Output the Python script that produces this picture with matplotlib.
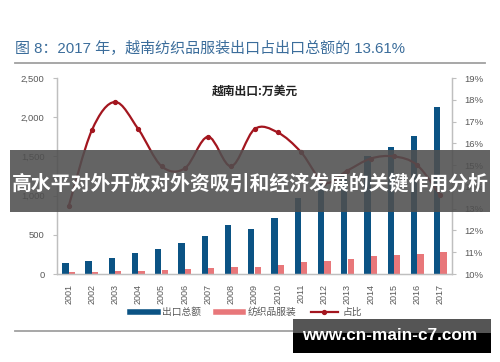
import matplotlib
matplotlib.use("Agg")
import matplotlib.pyplot as plt
from matplotlib.path import Path
from matplotlib.patches import PathPatch, Rectangle
from matplotlib.lines import Line2D
from matplotlib.ticker import FuncFormatter
import numpy as np

plt.rcParams['font.family'] = ['Liberation Sans', 'Noto Sans CJK SC', 'DejaVu Sans']

years = ['2001', '2002', '2003', '2004', '2005', '2006', '2007', '2008', '2009',
         '2010', '2011', '2012', '2013', '2014', '2015', '2016', '2017']
total_exports = [145, 168, 198, 264, 322, 395, 482, 627, 570, 720, 966, 1150, 1290,
                 1500, 1620, 1765, 2130]
textile_exports = [24, 28, 38, 42, 50, 62, 76, 90, 88, 113, 152, 165, 192,
                   230, 244, 258, 285]
share_pct = [13.1, 16.6, 17.9, 16.65, 14.95, 14.85, 16.3, 14.95, 16.65,
             16.5, 15.6, 14.2, 14.75, 15.3, 15.4, 15.0, 13.61]

title = "图 8：2017 年，越南纺织品服装出口占出口总额的 13.61%"
inner_label = "越南出口:万美元"
legend_labels = ['出口总额', '纺织品服装', '占比']
banner_text = "高水平对外开放对外资吸引和经济发展的关键作用分析"
url_text = "www.cn-main-c7.com"

BLUE = '#0b5384'
PINK = '#e8777a'
RED = '#a3161f'
GRAY = '#595959'

W, H = 500, 362
fig = plt.figure(figsize=(5, 3.62), dpi=100)
fig.patch.set_facecolor('white')

def fx(px):
    return px / W

def fy(py):
    return 1 - py / H

ax = fig.add_axes([fx(57), fy(274), fx(452) - fx(57), fy(78) - fy(274)])
ax2 = ax.twinx()

x = np.arange(len(years))
bw = 0.27
ax.bar(x - 0.14, total_exports, width=bw, color=BLUE, zorder=2)
ax.bar(x + 0.14, textile_exports, width=bw, color=PINK, zorder=2)

ax.set_xlim(-0.5, len(years) - 0.5)
ax.set_ylim(0, 2500)
ax.set_yticks([0, 500, 1000, 1500, 2000, 2500])
ax.yaxis.set_major_formatter(FuncFormatter(lambda v, p: f"{int(v):,}"))
ax.set_xticks(x)
ax.set_xticklabels(years, rotation=90, fontsize=6.5, color=GRAY)
ax.tick_params(axis='x', length=0, pad=7)
ax.tick_params(axis='y', length=3, color='#bfbfbf', labelsize=6.8, labelcolor=GRAY, pad=6)

ax2.set_ylim(10, 19)
ax2.set_yticks(range(10, 20))
ax2.yaxis.set_major_formatter(FuncFormatter(lambda v, p: f"{int(v)}%"))
ax2.tick_params(axis='y', length=3, color='#bfbfbf', labelsize=6.8, labelcolor=GRAY, pad=6)

for a in (ax, ax2):
    a.spines['top'].set_visible(False)
    for s in ('left', 'right', 'bottom'):
        a.spines[s].set_color('#bfbfbf')
        a.spines[s].set_linewidth(0.9)
    a.set_facecolor('none')

# smoothed line (Excel-style) through data points via cubic Bezier segments
pts = np.column_stack([x, share_pct]).astype(float)
verts = [tuple(pts[0])]
codes = [Path.MOVETO]
n = len(pts)
for i in range(n - 1):
    p0 = pts[i - 1] if i > 0 else pts[i]
    p1 = pts[i]
    p2 = pts[i + 1]
    p3 = pts[i + 2] if i + 2 < n else pts[i + 1]
    c1 = p1 + (p2 - p0) / 6.0
    c2 = p2 - (p3 - p1) / 6.0
    verts += [tuple(c1), tuple(c2), tuple(p2)]
    codes += [Path.CURVE4, Path.CURVE4, Path.CURVE4]
ax2.add_patch(PathPatch(Path(verts, codes), facecolor='none', edgecolor=RED, lw=1.6, zorder=3))
ax2.plot(x, share_pct, linestyle='none', marker='o', markersize=2.8, color=RED, zorder=4)

ax.text(0.5, 0.935, inner_label, transform=ax.transAxes, ha='center', va='center',
        fontsize=8.5, fontweight='bold', color='#222222', family=['Noto Sans CJK SC'])

# title and rules
fig.text(fx(15), fy(49), title, ha='left', va='center', fontsize=10.8, color='#3b6d9b')
fig.add_artist(Line2D([fx(15), fx(485)], [fy(63), fy(63)], color='#a0a0a0', lw=1.3))
fig.add_artist(Line2D([fx(15), fx(485)], [fy(331), fy(331)], color='#a0a0a0', lw=1.3))

# legend
handles = [Line2D([], [], color=BLUE, lw=4),
           Line2D([], [], color=PINK, lw=4),
           Line2D([], [], color=RED, lw=1.6, marker='o', markersize=2.8)]
leg = fig.legend(handles, legend_labels, loc='center', bbox_to_anchor=(fx(246), fy(312)),
                 ncol=3, frameon=False, fontsize=7, handlelength=2.8, handletextpad=0.45,
                 columnspacing=1.5, labelcolor=GRAY)

# overlay banners
fig.add_artist(Rectangle((fx(10), fy(212)), fx(490) - fx(10), fy(150) - fy(212),
                         transform=fig.transFigure, facecolor='#4f4f4f', alpha=0.88,
                         edgecolor='none', zorder=10))
fig.text(fx(250), fy(183), banner_text, ha='center', va='center', fontsize=14.3,
         fontweight='bold', color='white', family=['Noto Sans CJK SC'], zorder=11)

fig.add_artist(Rectangle((fx(293), fy(353)), fx(491) - fx(293), fy(319) - fy(353),
                         transform=fig.transFigure, facecolor='black', edgecolor='none', zorder=10))
fig.add_artist(Rectangle((fx(293), fy(333)), fx(491) - fx(293), fy(319) - fy(333),
                         transform=fig.transFigure, facecolor='#555555', edgecolor='none', zorder=10))
fig.text(fx(390), fy(336), url_text, ha='center', va='center', fontsize=12.4,
         fontweight='bold', color='white', family=['Liberation Sans'], zorder=11)

fig.savefig('out.png', dpi=100)
